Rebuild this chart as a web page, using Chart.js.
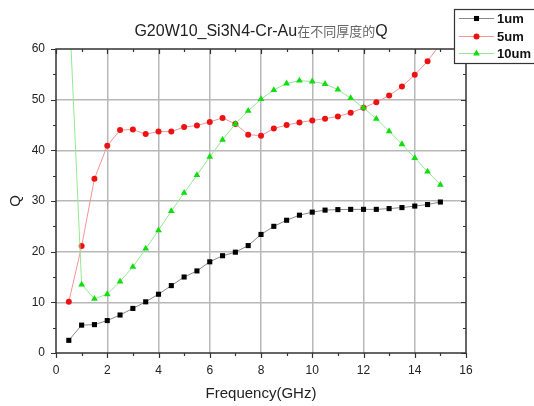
<!DOCTYPE html>
<html>
<head>
<meta charset="utf-8">
<script src="https://cdn.jsdelivr.net/npm/chart.js@4.4.0/dist/chart.umd.min.js"></script>
<style>
html,body{margin:0;padding:0;background:#fff;}
#wrap{width:534px;height:406px;position:relative;}
canvas{display:block;}
</style>
</head>
<body>
<div id="wrap"><canvas id="c" width="534" height="406"></canvas></div>
<script>
// ---- data ----
const frequencies = [0.5,1,1.5,2,2.5,3,3.5,4,4.5,5,5.5,6,6.5,7,7.5,8,8.5,9,9.5,10,10.5,11,11.5,12,12.5,13,13.5,14,14.5,15];
const q1um  = [2.5,5.5,5.6,6.4,7.5,8.8,10.1,11.6,13.3,15.0,16.2,18.0,19.2,19.9,21.2,23.4,25.0,26.2,27.2,27.8,28.2,28.3,28.35,28.35,28.35,28.5,28.7,29.0,29.3,29.8];
const q5um  = [10.1,21.1,34.4,40.9,44.0,44.1,43.2,43.7,43.7,44.6,44.9,45.6,46.4,45.2,43.1,42.9,44.3,45.0,45.5,45.9,46.25,46.7,47.4,48.4,49.5,50.8,52.6,54.9,57.6,61.0];
const q10um = [70,13.5,10.7,11.6,14.1,17.0,20.6,24.2,28.0,31.6,35.1,38.7,42.1,45.2,47.8,50.1,51.9,53.2,53.75,53.6,53.1,52.0,50.3,48.4,46.2,43.75,41.2,38.5,35.8,33.2];
const seriesNames = ['1um','5um','10um'];
const xTicks = [0,2,4,6,8,10,12,14,16];
const yTicks = [0,10,20,30,40,50,60];
const titleLatin = 'G20W10_Si3N4-Cr-Au';
const titleCJK = '在不同厚度的';
const titleEnd = 'Q';

const pts = arr => frequencies.map((f,i)=>({x:f,y:arr[i]}));

const LATIN = '"Liberation Sans", Arial, sans-serif';

const tickPlugin = {
  id:'ticks',
  afterDraw(chart){
    const ctx = chart.ctx, a = chart.chartArea;
    const xs = chart.scales.x, ys = chart.scales.y;
    ctx.save();
    ctx.strokeStyle = '#333';
    ctx.lineWidth = 1.2;
    ctx.beginPath();
    for(let v=0; v<=16; v+=1){
      const major = v%2===0;
      const L = major?5:3;
      const px = Math.round(xs.getPixelForValue(v))+0.5;
      ctx.moveTo(px, a.bottom); ctx.lineTo(px, a.bottom+L);
      ctx.moveTo(px, a.top); ctx.lineTo(px, a.top+L);
    }
    for(let v=0; v<=60; v+=5){
      const major = v%10===0;
      const L = major?5:3;
      const py = Math.round(ys.getPixelForValue(v))+0.5;
      ctx.moveTo(a.left, py); ctx.lineTo(a.left-L, py);
      ctx.moveTo(a.right, py); ctx.lineTo(a.right-L, py);
    }
    ctx.stroke();
    ctx.lineWidth = 1.5;
    ctx.strokeRect(a.left, a.top, a.right-a.left, a.bottom-a.top);
    ctx.restore();
  }
};

const titlePlugin = {
  id:'twoFontTitle',
  afterDraw(chart){
    const ctx = chart.ctx, a = chart.chartArea;
    ctx.save();
    const f1 = '16px '+LATIN;
    const f2 = '13px "Noto Sans CJK SC", sans-serif';
    ctx.font = f1; const w1 = ctx.measureText(titleLatin).width; const w3 = ctx.measureText(titleEnd).width;
    ctx.font = f2; const w2 = ctx.measureText(titleCJK).width;
    const total = w1+w2+w3;
    let x = (a.left+a.right)/2 - total/2;
    const y = 32;
    ctx.textBaseline = 'middle';
    ctx.textAlign = 'left';
    ctx.font = f1; ctx.fillStyle = '#222'; ctx.fillText(titleLatin, x, y); x += w1;
    ctx.font = f2; ctx.fillStyle = '#666'; ctx.fillText(titleCJK, x, y-0.5); x += w2;
    ctx.font = f1; ctx.fillStyle = '#222'; ctx.fillText(titleEnd, x, y);
    ctx.restore();
  }
};

const legendPlugin = {
  id:'boxLegend',
  afterDraw(chart){
    const ctx = chart.ctx;
    ctx.save();
    const bx = 454.5, by = 9.5, bw = 100, bh = 54;
    ctx.fillStyle = '#fff';
    ctx.fillRect(bx, by, bw, bh);
    ctx.strokeStyle = '#333'; ctx.lineWidth = 1.2;
    ctx.strokeRect(bx, by, bw, bh);
    const rows = [18, 36, 53];
    seriesNames.forEach((name, i) => {
      const ds = chart.data.datasets.find(d=>d.label===name);
      const y = rows[i];
      ctx.strokeStyle = ds.borderColor; ctx.lineWidth = 1;
      ctx.beginPath(); ctx.moveTo(459, y+0.5); ctx.lineTo(494, y+0.5); ctx.stroke();
      ctx.fillStyle = ds.pointBackgroundColor;
      ctx.strokeStyle = ds.pointBackgroundColor;
      Chart.helpers.drawPoint(ctx, {pointStyle: ds.pointStyle, radius: ds.pointRadius, borderWidth: 0}, 476.5, y+0.5);
      ctx.fillStyle = '#111';
      ctx.font = 'bold 13px '+LATIN;
      ctx.textBaseline = 'middle'; ctx.textAlign='left';
      ctx.fillText(name, 497, y+1);
    });
    ctx.restore();
  }
};

new Chart(document.getElementById('c'), {
  type:'line',
  data:{
    datasets:[
      {label:seriesNames[0], data:pts(q1um), borderColor:'#8a8a8a', borderWidth:1, pointStyle:'rect', pointRadius:3.6, pointBackgroundColor:'#000', pointBorderColor:'#000', pointBorderWidth:0, order:2, clip:0},
      {label:seriesNames[1], data:pts(q5um), borderColor:'#f29595', borderWidth:1, pointStyle:'circle', pointRadius:3, pointBackgroundColor:'#ee1111', pointBorderColor:'#ee1111', pointBorderWidth:0, order:1, clip:0},
      {label:seriesNames[2], data:pts(q10um), borderColor:'#93e893', borderWidth:1, pointStyle:'triangle', pointRadius:3.9, pointBackgroundColor:'#11dd11', pointBorderColor:'#11dd11', pointBorderWidth:0, order:0, clip:0}
    ]
  },
  options:{
    responsive:false, animation:false, devicePixelRatio:1,
    layout:{padding:{left:0,right:68,top:49,bottom:0}},
    plugins:{legend:{display:false}, title:{display:false}, tooltip:{enabled:false}},
    elements:{line:{tension:0}},
    scales:{
      x:{type:'linear', min:0, max:16,
        afterFit(s){ s.height = 53; },
        border:{display:false},
        grid:{drawTicks:false, lineWidth:1.5, color:c=> (c.tick && c.tick.value%2===0 && c.tick.value>0 && c.tick.value<16) ? '#b8b8b8' : 'rgba(0,0,0,0)'},
        ticks:{stepSize:1, padding:10, autoSkip:false, maxRotation:0, color:'#222', font:{family:LATIN, size:12},
          callback:v=> xTicks.includes(v) ? String(v) : ''},
        title:{display:true, text:'Frequency(GHz)', color:'#222', font:{family:LATIN, size:15}, padding:{top:0,bottom:3}}
      },
      y:{type:'linear', min:0, max:60,
        afterFit(s){ s.width = 56; },
        border:{display:false},
        grid:{drawTicks:false, lineWidth:1.5, color:c=> (c.tick && c.tick.value%10===0 && c.tick.value>0 && c.tick.value<60) ? '#b8b8b8' : 'rgba(0,0,0,0)'},
        ticks:{stepSize:5, padding:11, autoSkip:false, color:'#222', font:{family:LATIN, size:12},
          callback:v=> yTicks.includes(v) ? String(v) : ''},
        title:{display:true, text:'Q', color:'#222', font:{family:LATIN, size:15}, padding:{top:7,bottom:0}}
      }
    }
  },
  plugins:[tickPlugin, titlePlugin, legendPlugin]
});
</script>
</body>
</html>
